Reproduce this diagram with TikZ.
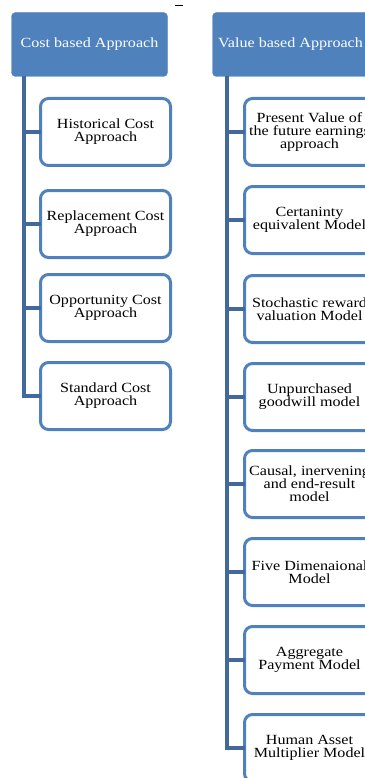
\documentclass[tikz,border=0pt]{standalone}
\usepackage{fontspec}
\setmainfont[FakeStretch=1.15]{Liberation Serif}
\usepackage{xcolor}
\definecolor{hdrblue}{HTML}{4F81BD}
\definecolor{trunkblue}{HTML}{41699E}

\begin{document}
\begin{tikzpicture}[x=1pt,y=-1pt,
    header/.style={fill=hdrblue,draw=hdrblue,rounded corners=4pt,minimum width=156pt,minimum height=64pt,
      text=white,font=\fontsize{14}{13}\selectfont,inner sep=0pt,outer sep=0pt},
    itembox/.style={draw=hdrblue,line width=3pt,fill=white,rounded corners=8pt,minimum width=130pt,
      minimum height=67pt,align=center,font=\fontsize{14}{13}\selectfont,inner sep=0pt,outer sep=0pt},
    trunk/.style={trunkblue,line width=4pt}]
    \useasboundingbox (0,0) rectangle (364,778);

    % stray mark at the top
    \draw[line width=1pt] (175,6) -- (183,6);

    % Headers
    \node[header] (cost) at (89.5,44.5) {Cost based Approach};
    \node[header] (value) at (290.5,44.5) {Value based Approach};

    % Cost based items
    \node[itembox] (c1) at (105.5,132) {Historical Cost\\Approach};
    \node[itembox] (c2) at (105.5,224) {Replacement Cost\\Approach};
    \node[itembox] (c3) at (105.5,308) {Opportunity Cost\\Approach};
    \node[itembox] (c4) at (105.5,396) {Standard Cost\\Approach};

    % Value based items
    \node[itembox] (v1) at (309.5,132) {Present Value of\\the future earnings\\approach};
    \node[itembox] (v2) at (309.5,220) {Certaninty\\equivalent Model};
    \node[itembox] (v3) at (309.5,309) {Stochastic reward\\valuation Model};
    \node[itembox] (v4) at (309.5,397) {Unpurchased\\goodwill model};
    \node[itembox] (v5) at (309.5,484) {Causal, inervening\\and end-result\\model};
    \node[itembox] (v6) at (309.5,572) {Five Dimenaional\\Model};
    \node[itembox] (v7) at (309.5,660) {Aggregate\\Payment Model};
    \node[itembox] (v8) at (309.5,748) {Human Asset\\Multiplier Model};

    % Trunks
    \coordinate (ctop) at (24,76);
    \coordinate (vtop) at (227,76);
    \foreach \n in {c1,c2,c3,c4}
      \draw[trunk] (ctop) |- (\n.west);
    \foreach \n in {v1,v2,v3,v4,v5,v6,v7,v8}
      \draw[trunk] (vtop) |- (\n.west);
\end{tikzpicture}
\end{document}
